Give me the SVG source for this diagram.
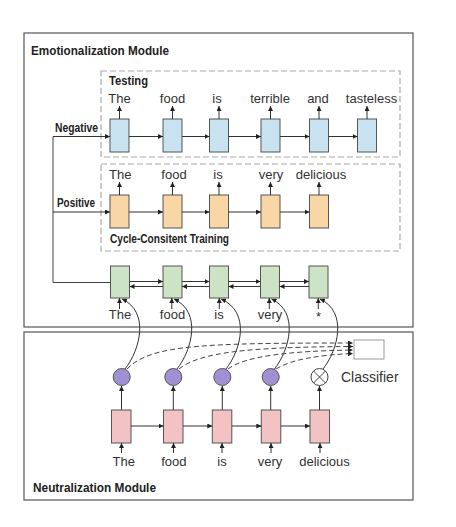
<svg xmlns="http://www.w3.org/2000/svg" width="456" height="527" viewBox="0 0 456 527">
<defs>
<marker id="ah" viewBox="0 0 6 6" refX="6" refY="3" markerWidth="5" markerHeight="5" markerUnits="userSpaceOnUse" orient="auto"><path d="M0,0 L6,3 L0,6 z" fill="#222"/></marker>
<style>
.frame{fill:none;stroke:#555;stroke-width:1.2}
.dbox{fill:none;stroke:#aaa;stroke-width:1.2;stroke-dasharray:6 3}
.ln{fill:none;stroke:#333;stroke-width:1;marker-end:url(#ah)}
.pl{fill:none;stroke:#444;stroke-width:1}
.cv{fill:none;stroke:#333;stroke-width:1;marker-end:url(#ah)}
.ds{fill:none;stroke:#444;stroke-width:1;stroke-dasharray:5 3;marker-end:url(#ah)}
.blue{fill:#c8e2f0;stroke:#555;stroke-width:1}
.org{fill:#f8d6a6;stroke:#555;stroke-width:1}
.grn{fill:#cde3c6;stroke:#555;stroke-width:1}
.pnk{fill:#f3c3c3;stroke:#555;stroke-width:1}
.pur{fill:#a190d3;stroke:#555;stroke-width:1}
.w{font-family:"Liberation Sans",Arial,sans-serif;font-size:13px;fill:#333;text-anchor:middle}
.b{font-family:"Liberation Sans",Arial,sans-serif;font-weight:bold;fill:#222}
</style>
</defs>
<rect width="456" height="527" fill="#fff"/>

<g id="emotionalization-module">
<rect class="frame" x="24" y="33" width="389" height="294"/>
<text class="b" x="31" y="55" font-size="13.5" textLength="138" lengthAdjust="spacingAndGlyphs">Emotionalization Module</text>
</g>
<g id="neutralization-module">
<rect class="frame" x="24" y="332" width="389" height="168"/>
<text class="b" x="33" y="492" font-size="13.5" textLength="123" lengthAdjust="spacingAndGlyphs">Neutralization Module</text>
</g>

<g id="testing">
<rect class="dbox" x="101" y="71" width="299" height="86"/>
<text class="b" x="109" y="85" font-size="12.5" textLength="39" lengthAdjust="spacingAndGlyphs">Testing</text>
<text class="b" x="55" y="132" font-size="12" textLength="43" lengthAdjust="spacingAndGlyphs">Negative</text>
<rect class="blue" x="110" y="119" width="19" height="33"/>
<rect class="blue" x="163" y="119" width="19" height="33"/>
<rect class="blue" x="209.5" y="119" width="19" height="33"/>
<rect class="blue" x="261" y="119" width="19" height="33"/>
<rect class="blue" x="309.5" y="119" width="19" height="33"/>
<rect class="blue" x="357.5" y="119" width="19" height="33"/>
<text class="w" x="119.5" y="103">The</text>
<text class="w" x="172.5" y="103">food</text>
<text class="w" x="217" y="103">is</text>
<text class="w" x="270" y="103">terrible</text>
<text class="w" x="318" y="103">and</text>
<text class="w" x="371.5" y="103">tasteless</text>
</g>

<g id="positive">
<rect class="dbox" x="101" y="164" width="299" height="87"/>
<text class="b" x="57" y="207" font-size="12" textLength="38" lengthAdjust="spacingAndGlyphs">Positive</text>
<text class="b" x="110" y="243" font-size="12" textLength="119" lengthAdjust="spacingAndGlyphs">Cycle-Consitent Training</text>
<rect class="org" x="110" y="195" width="19" height="33"/>
<rect class="org" x="163" y="195" width="19" height="33"/>
<rect class="org" x="209.5" y="195" width="19" height="33"/>
<rect class="org" x="261" y="195" width="19" height="33"/>
<rect class="org" x="309.5" y="195" width="19" height="33"/>
<text class="w" x="120.3" y="179">The</text>
<text class="w" x="174" y="179">food</text>
<text class="w" x="218" y="179">is</text>
<text class="w" x="271" y="179">very</text>
<text class="w" x="321" y="179">delicious</text>
</g>

<g id="green-encoder">
<rect class="grn" x="110.5" y="266" width="19" height="32"/>
<rect class="grn" x="163" y="266" width="19" height="32"/>
<rect class="grn" x="209.5" y="266" width="19" height="32"/>
<rect class="grn" x="260.5" y="266" width="19" height="32"/>
<rect class="grn" x="309" y="266" width="19" height="32"/>
<text class="w" x="120" y="319">The</text>
<text class="w" x="172.5" y="319">food</text>
<text class="w" x="219" y="319">is</text>
<text class="w" x="270" y="319">very</text>
<text class="w" x="318.5" y="321">*</text>
</g>

<g id="classifier">
<rect x="354" y="340" width="30" height="19" fill="#fff" stroke="#999" stroke-width="1"/>
<text x="341" y="382" font-family="Liberation Sans,Arial,sans-serif" font-size="14" fill="#333">Classifier</text>
</g>

<g id="neutralizer">
<circle class="pur" cx="121.7" cy="377" r="8.5"/>
<circle class="pur" cx="173.3" cy="377" r="8.5"/>
<circle class="pur" cx="222.3" cy="377" r="8.5"/>
<circle class="pur" cx="270.7" cy="377" r="8.5"/>
<circle cx="319.5" cy="377" r="8.5" fill="#fff" stroke="#444" stroke-width="1"/>
<path class="pl" d="M313.5,371 L325.5,383 M325.5,371 L313.5,383"/>
<rect class="pnk" x="111.5" y="410" width="19.5" height="33"/>
<rect class="pnk" x="163.5" y="410" width="19.5" height="33"/>
<rect class="pnk" x="212.3" y="410" width="19.5" height="33"/>
<rect class="pnk" x="261.3" y="410" width="19.5" height="33"/>
<rect class="pnk" x="310" y="410" width="19.5" height="33"/>
<text class="w" x="123.8" y="466">The</text>
<text class="w" x="173.8" y="466">food</text>
<text class="w" x="222" y="466">is</text>
<text class="w" x="270" y="466">very</text>
<text class="w" x="324.5" y="466">delicious</text>
</g>

<g id="connectors">
<path class="pl" d="M53,136.5 L53,282.5 L110.5,282.5"/>
<path class="ln" d="M53,136.5 L110,136.5"/>
<path class="ln" d="M53,212 L110,212"/>
<path class="ln" d="M129,136.5 L163,136.5"/>
<path class="ln" d="M182,136.5 L209.5,136.5"/>
<path class="ln" d="M228.5,136.5 L261,136.5"/>
<path class="ln" d="M280,136.5 L309.5,136.5"/>
<path class="ln" d="M328.5,136.5 L357.5,136.5"/>
<path class="ln" d="M119.5,119 L119.5,106"/>
<path class="ln" d="M172.5,119 L172.5,106"/>
<path class="ln" d="M219,119 L219,106"/>
<path class="ln" d="M270.5,119 L270.5,106"/>
<path class="ln" d="M319,119 L319,106"/>
<path class="ln" d="M367,119 L367,106"/>
<path class="ln" d="M129,212 L163,212"/>
<path class="ln" d="M182,212 L209.5,212"/>
<path class="ln" d="M228.5,212 L261,212"/>
<path class="ln" d="M280,212 L309.5,212"/>
<path class="ln" d="M119.5,195 L119.5,182"/>
<path class="ln" d="M172.5,195 L172.5,182"/>
<path class="ln" d="M219,195 L219,182"/>
<path class="ln" d="M270.5,195 L270.5,182"/>
<path class="ln" d="M319,195 L319,182"/>
<path class="ln" d="M129.5,281.5 L163,281.5"/>
<path class="ln" d="M182,281.5 L209.5,281.5"/>
<path class="ln" d="M228.5,281.5 L260.5,281.5"/>
<path class="ln" d="M279.5,281.5 L309,281.5"/>
<path class="ln" d="M163,286.5 L129.5,286.5"/>
<path class="ln" d="M209.5,286.5 L182,286.5"/>
<path class="ln" d="M260.5,286.5 L228.5,286.5"/>
<path class="ln" d="M309,286.5 L279.5,286.5"/>
<path class="ln" d="M119.5,309 L119.5,298"/>
<path class="ln" d="M171.8,309 L171.8,298"/>
<path class="ln" d="M219.3,309 L219.3,298"/>
<path class="ln" d="M269.3,309 L269.3,298"/>
<path class="ln" d="M318.3,309 L318.3,298"/>
<path class="cv" d="M125,369 C140,350 150,312 122,299"/>
<path class="cv" d="M177,369 C192,350 202,312 174,299"/>
<path class="cv" d="M226,369 C241,350 251,312 221,299"/>
<path class="cv" d="M274.5,369 C289.5,350 299.5,312 271.5,299"/>
<path class="cv" d="M323,369 C338,350 348,312 320,299"/>
<path class="ds" d="M127,369 C150,345 200,343 353,343"/>
<path class="ds" d="M179,369 C200,352 250,347 353,346.5"/>
<path class="ds" d="M228,369 C245,356 290,351 353,350"/>
<path class="ds" d="M276,369 C292,359 320,355 353,353.5"/>
<path class="ln" d="M131,426 L163.5,426"/>
<path class="ln" d="M183,426 L212.3,426"/>
<path class="ln" d="M231.8,426 L261.3,426"/>
<path class="ln" d="M280.8,426 L310,426"/>
<path class="ln" d="M121.5,410 L121.5,386"/>
<path class="ln" d="M173.3,410 L173.3,386"/>
<path class="ln" d="M222.3,410 L222.3,386"/>
<path class="ln" d="M270.7,410 L270.7,386"/>
<path class="ln" d="M319.5,410 L319.5,386"/>
<path class="ln" d="M121.5,453 L121.5,443"/>
<path class="ln" d="M173.5,453 L173.5,443"/>
<path class="ln" d="M222,453 L222,443"/>
<path class="ln" d="M271,453 L271,443"/>
<path class="ln" d="M320,453 L320,443"/>
</g>
</svg>
